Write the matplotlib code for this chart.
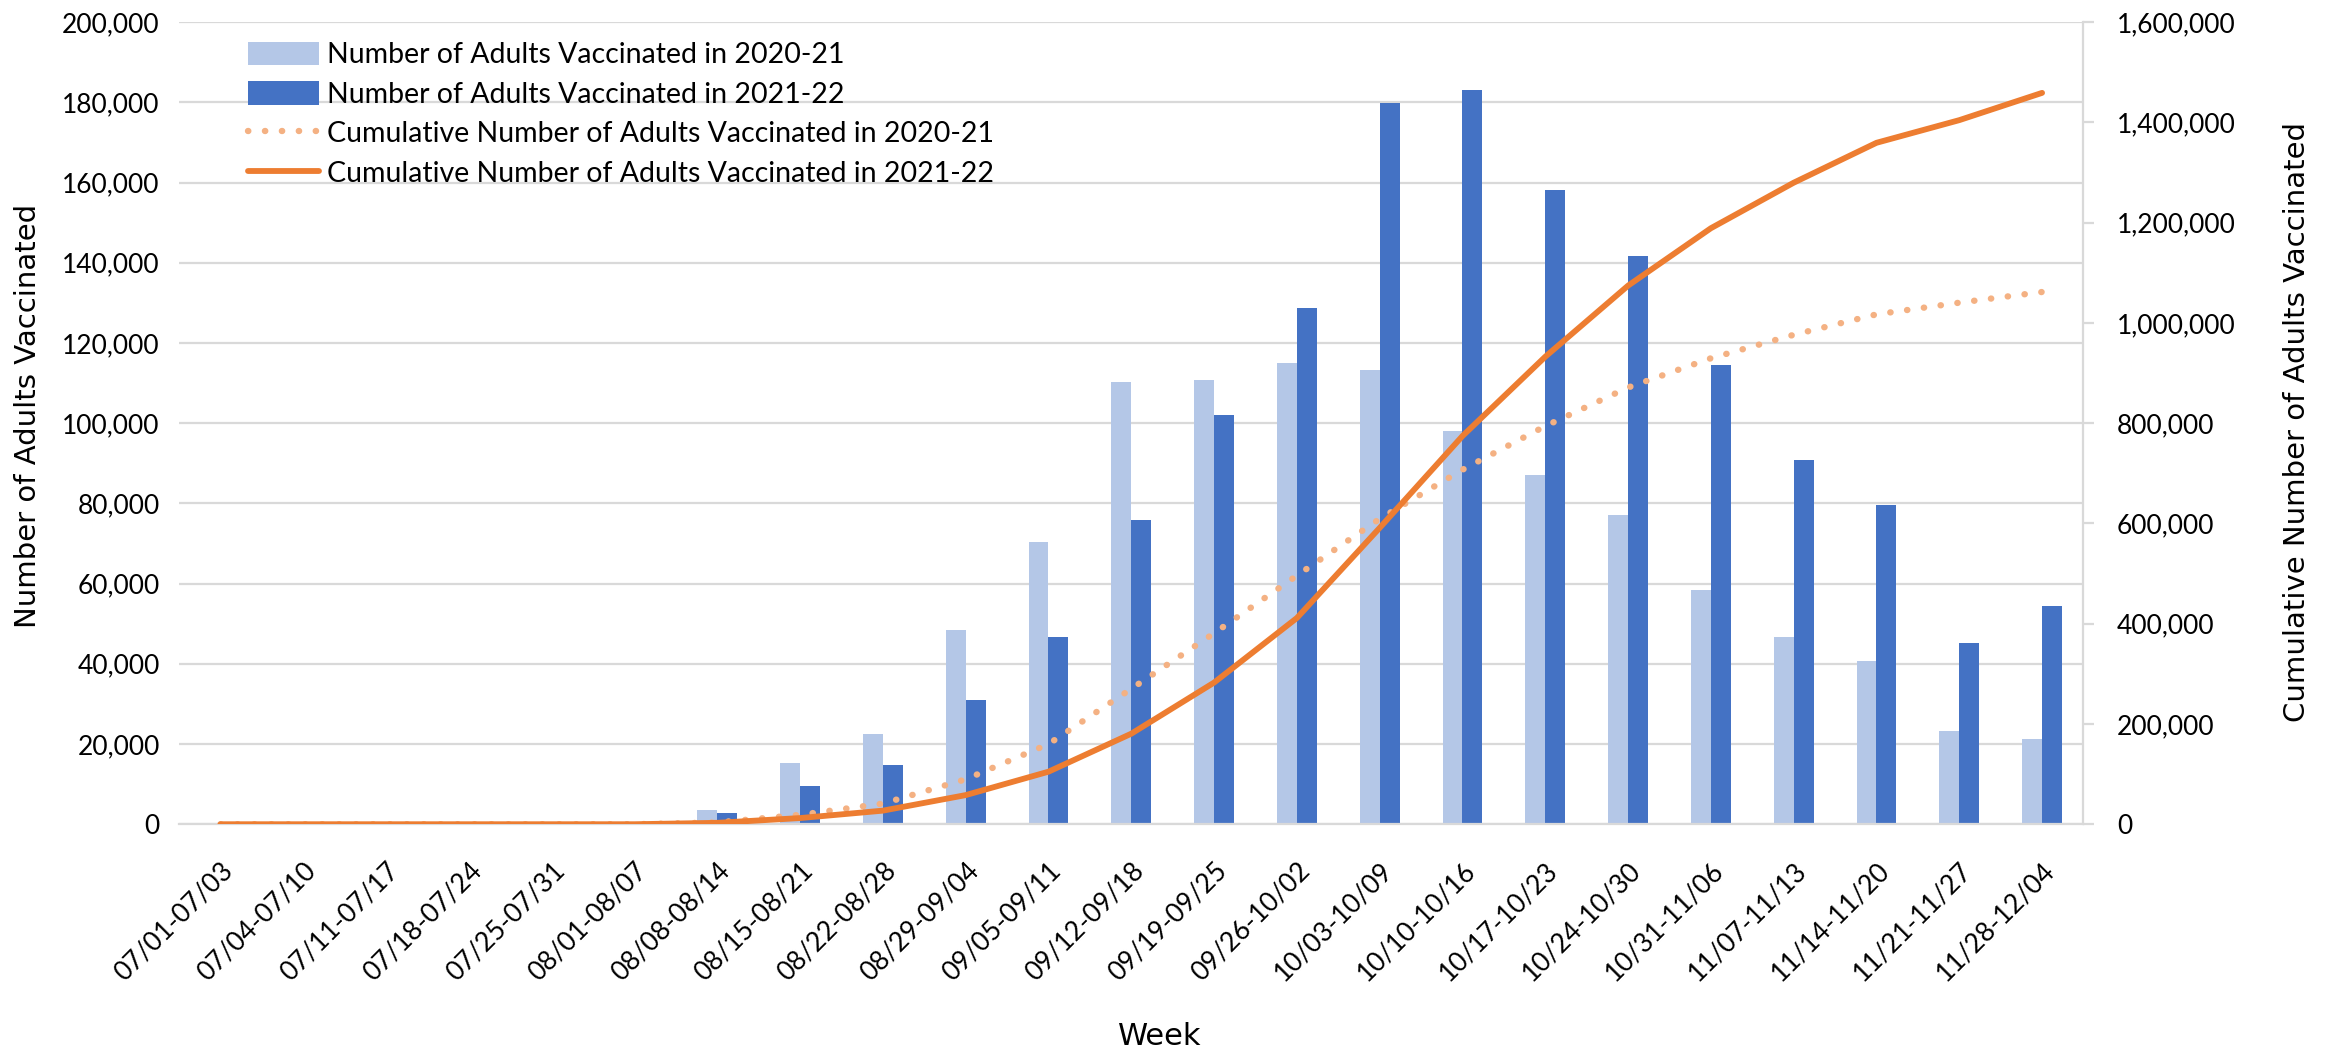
import matplotlib
matplotlib.use("Agg")
import matplotlib.pyplot as plt
import numpy as np
from matplotlib.ticker import FuncFormatter, MultipleLocator

weeks = ["07/01-07/03", "07/04-07/10", "07/11-07/17", "07/18-07/24", "07/25-07/31",
         "08/01-08/07", "08/08-08/14", "08/15-08/21", "08/22-08/28", "08/29-09/04",
         "09/05-09/11", "09/12-09/18", "09/19-09/25", "09/26-10/02", "10/03-10/09",
         "10/10-10/16", "10/17-10/23", "10/24-10/30", "10/31-11/06", "11/07-11/13",
         "11/14-11/20", "11/21-11/27", "11/28-12/04"]

weekly_2021 = [0, 0, 0, 0, 0, 0, 3500, 15300, 22400, 48400, 70300, 110300, 110800,
               115000, 113200, 98000, 87000, 77000, 58300, 46800, 40800, 23300, 21300]
weekly_2122 = [0, 0, 0, 0, 0, 0, 2800, 9500, 14800, 31000, 46700, 75800, 102000,
               128800, 179800, 183200, 158200, 141800, 114500, 90800, 79600, 45200, 54400]

cum_2021 = [0, 0, 0, 0, 0, 0, 3500, 18800, 41200, 89600, 159900, 270200, 381000,
            496000, 609200, 707200, 794200, 871200, 929500, 976300, 1017100, 1040400, 1061700]
cum_2122 = [0, 0, 0, 0, 0, 0, 2800, 12300, 27100, 58100, 104800, 180600, 282600,
            411400, 591200, 774400, 932600, 1074400, 1188900, 1279700, 1359300, 1404500, 1458900]

LIGHT = "#B4C7E7"
DARK = "#4472C4"
ORANGE = "#ED7D31"
LORANGE = "#F4B183"
GRID = "#D9D9D9"
NARROW = ["Lato", "DejaVu Sans"]

fig = plt.figure(figsize=(23.41, 10.54), dpi=100)
ax = fig.add_axes([0.0765, 0.218, 0.8135, 0.761])
ax2 = ax.twinx()

x = np.arange(len(weeks))
w = 0.24
b1 = ax.bar(x - w / 2, weekly_2021, w, color=LIGHT, label="Number of Adults Vaccinated in 2020-21", zorder=2)
b2 = ax.bar(x + w / 2, weekly_2122, w, color=DARK, label="Number of Adults Vaccinated in 2021-22", zorder=2)

l1, = ax2.plot(x, cum_2021, color=LORANGE, lw=4.6, linestyle=(0, (0.05, 2.6)),
               dash_capstyle="round", label="Cumulative Number of Adults Vaccinated in 2020-21")
l2, = ax2.plot(x, cum_2122, color=ORANGE, lw=4.2, solid_capstyle="round",
               label="Cumulative Number of Adults Vaccinated in 2021-22")

ax.set_xlim(-0.5, len(weeks) - 0.5)
ax.set_ylim(0, 200000)
ax2.set_ylim(0, 1600000)
ax.yaxis.set_major_locator(MultipleLocator(20000))
ax2.yaxis.set_major_locator(MultipleLocator(200000))
fmt = FuncFormatter(lambda v, p: f"{int(v):,}")
ax.yaxis.set_major_formatter(fmt)
ax2.yaxis.set_major_formatter(fmt)

ax.grid(axis="y", color=GRID, lw=1.6, zorder=0)
ax.set_axisbelow(True)
for s in ["top", "left", "right"]:
    ax.spines[s].set_visible(False)
for s in ["top", "left", "bottom"]:
    ax2.spines[s].set_visible(False)
ax.spines["bottom"].set_color(GRID)
ax.spines["bottom"].set_linewidth(1.6)
ax2.spines["right"].set_color(GRID)
ax2.spines["right"].set_linewidth(1.6)

ax.set_xticks(x)
ax.set_xticklabels(weeks, rotation=45, ha="right", rotation_mode="anchor",
                   fontsize=19, family=NARROW)
ax.tick_params(axis="x", length=0, pad=24)
ax.tick_params(axis="y", length=0, pad=14)
ax2.tick_params(axis="y", length=8, width=1.6, color=GRID, pad=16)
for lab in ax.get_yticklabels() + ax2.get_yticklabels():
    lab.set_fontsize(19)
    lab.set_family(NARROW)

# axis titles placed directly in figure coordinates
fig.text(0.012, 0.605, "Number of Adults Vaccinated", rotation=90,
         ha="center", va="center", fontsize=21)
fig.text(0.981, 0.600, "Cumulative Number of Adults Vaccinated", rotation=90,
         ha="center", va="center", fontsize=21)
fig.text(0.4955, 0.017, "Week", ha="center", va="center", fontsize=22)

ax2.legend([b1, b2, l1, l2], [b1.get_label(), b2.get_label(), l1.get_label(), l2.get_label()],
           loc="upper left", bbox_to_anchor=(0.03, 0.99), frameon=False,
           prop={"family": NARROW, "size": 20.5}, handlelength=2.5, handleheight=0.9,
           labelspacing=0.45, handletextpad=0.3, borderaxespad=0)

fig.savefig("out.png", dpi=100)
